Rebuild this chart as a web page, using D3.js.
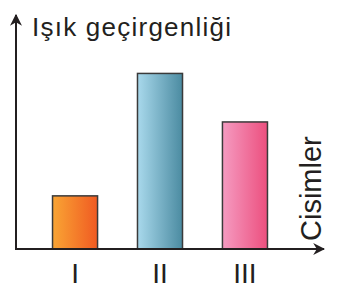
<!DOCTYPE html>
<html>
<head>
<meta charset="utf-8">
<script src="https://cdn.jsdelivr.net/npm/d3@7"></script>
<style>
  body { margin: 0; background: #fff; }
  text { font-family: "Liberation Sans", Arial, sans-serif; fill: #231f20; }
</style>
</head>
<body>
<div id="chart"></div>
<script>
// categories and values (relative light transmittance)
const categories = ["I", "II", "III"];
const values = [23, 76, 55];
const gradStops = [
    ["#f9a534", "#f05a22"],
    ["#a9d9ec", "#4b8ba1"],
    ["#f59bc1", "#ec4f7e"]
];

const svgWidth = 341, svgHeight = 302;

const svg = d3.select("#chart")
    .append("svg")
    .attr("width", svgWidth)
    .attr("height", svgHeight);

// gradients for bars
const defs = svg.append("defs");
gradStops.forEach(function(s, i) {
    const g = defs.append("linearGradient")
        .attr("id", "grad" + i)
        .attr("x1", "0%").attr("x2", "100%")
        .attr("y1", "0%").attr("y2", "0%");
    g.append("stop").attr("offset", "0%").attr("stop-color", s[0]);
    g.append("stop").attr("offset", "100%").attr("stop-color", s[1]);
});

defs.append("marker")
    .attr("id", "arrow")
    .attr("viewBox", "0 0 10 10")
    .attr("refX", 9)
    .attr("refY", 5)
    .attr("markerWidth", 6)
    .attr("markerHeight", 6)
    .attr("markerUnits", "strokeWidth")
    .attr("orient", "auto")
    .append("path")
    .attr("d", "M0,0 L10,5 L0,10 L3,5 Z")
    .attr("fill", "#231f20");

// scales
const x = d3.scaleBand()
    .domain(categories)
    .range([16, 304])
    .paddingInner(0.47)
    .paddingOuter(0.43);

const y = d3.scaleLinear()
    .domain([0, 100])
    .range([249, 18]);

// bars
svg.selectAll(".bar")
    .data(values)
    .enter()
    .append("rect")
    .attr("class", "bar")
    .attr("x", (d, i) => x(categories[i]))
    .attr("y", d => y(d))
    .attr("width", x.bandwidth())
    .attr("height", d => y(0) - y(d))
    .attr("fill", (d, i) => "url(#grad" + i + ")")
    .attr("stroke", "#3a3a3a")
    .attr("stroke-width", 1.5);

// axes with arrows
svg.append("line")
    .attr("x1", 16).attr("y1", y(0))
    .attr("x2", 16).attr("y2", 15)
    .attr("stroke", "#231f20")
    .attr("stroke-width", 2)
    .attr("marker-end", "url(#arrow)");

svg.append("line")
    .attr("x1", 15).attr("y1", y(0))
    .attr("x2", 324).attr("y2", y(0))
    .attr("stroke", "#231f20")
    .attr("stroke-width", 2)
    .attr("marker-end", "url(#arrow)");

// category labels
svg.selectAll(".cat")
    .data(categories)
    .enter()
    .append("text")
    .attr("class", "cat")
    .attr("x", d => x(d) + x.bandwidth() / 2)
    .attr("y", 283)
    .attr("text-anchor", "middle")
    .attr("font-size", 28)
    .text(d => d);

// axis titles
svg.append("text")
    .attr("x", 32)
    .attr("y", 36)
    .attr("font-size", 26)
    .attr("textLength", 199)
    .attr("lengthAdjust", "spacing")
    .text("Işık geçirgenliği");

svg.append("text")
    .attr("transform", "translate(321, 241) rotate(-90)")
    .attr("font-size", 29)
    .text("Cisimler");
</script>
</body>
</html>
